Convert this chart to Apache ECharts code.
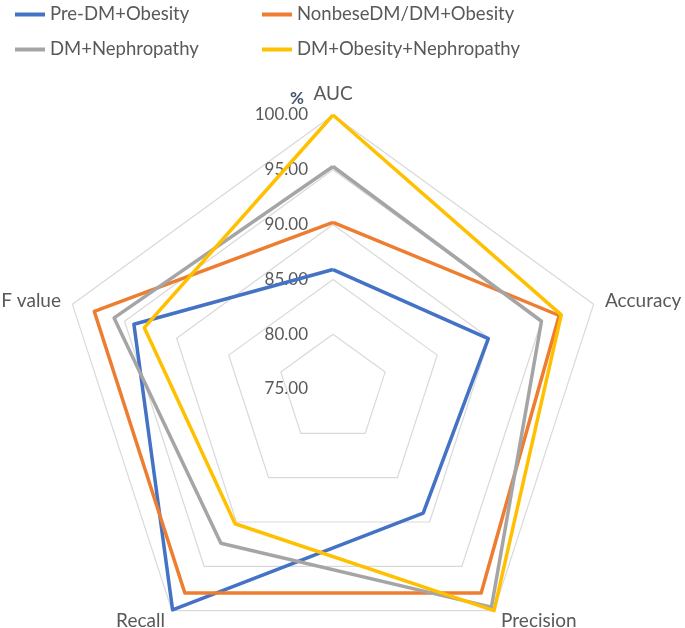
<!DOCTYPE html>
<html><head><meta charset="utf-8">
<script src="https://cdn.jsdelivr.net/npm/echarts@6/dist/echarts.min.js"></script>
<style>html,body{margin:0;padding:0;background:#fff}#c{width:685px;height:628px}</style>
</head><body><div id="c"></div>
<script>
const categories = ['AUC', 'Accuracy', 'Precision', 'Recall', 'F value'];
const seriesNames = ['Pre-DM+Obesity', 'NonbeseDM/DM+Obesity', 'DM+Nephropathy', 'DM+Obesity+Nephropathy'];
const preDM = [85.9, 89.9, 89.0, 99.9, 94.1];
const nonbese = [90.2, 96.7, 98.0, 98.0, 97.9];
const nephro = [95.3, 95.0, 99.6, 92.4, 96.0];
const obeseNephro = [100.0, 96.9, 100.0, 90.2, 93.1];
const axisMin = 75, axisMax = 100, axisStep = 5;
const colors = ['#4472C4', '#ED7D31', '#A5A5A5', '#FFC000'];

// ECharts places indicators counter-clockwise; reorder so they run clockwise
const order = [0, 4, 3, 2, 1];
const values = [preDM, nonbese, nephro, obeseNephro];
const font = 'Lato';
const indicator = order.map((k, i) => {
  const o = { name: categories[k], min: axisMin, max: axisMax };
  if (i === 0) o.axisLabel = { show: true };
  return o;
});

const legendPos = [[10, 0], [257, 0], [10, 35], [257, 35]];
const legends = seriesNames.map((n, i) => ({
  data: [n], left: legendPos[i][0], top: legendPos[i][1],
  icon: 'rect', itemWidth: 30, itemHeight: 4, itemGap: 0,
  selectedMode: false,
  textStyle: { color: '#595959', fontSize: 18.5, fontFamily: font }
}));

const chart = echarts.init(document.getElementById('c'));
chart.setOption({
  animation: false,
  backgroundColor: '#fff',
  color: colors,
  title: { text: '%', left: 285, top: 85, textStyle: { color: '#44546A', fontSize: 17, fontWeight: 'bold', fontFamily: font } },
  legend: legends,
  radar: {
    center: [333, 389], radius: 274, startAngle: 90, splitNumber: (axisMax - axisMin) / axisStep,
    shape: 'polygon', indicator: indicator,
    axisName: { color: '#595959', fontSize: 19, fontFamily: font },
    nameGap: 12,
    splitLine: { lineStyle: { color: '#D9D9D9', width: 1.2 } },
    splitArea: { show: false },
    axisLine: { show: false },
    axisTick: { show: false },
    axisLabel: { show: false, color: '#595959', fontSize: 17, fontFamily: font, margin: 25,
      formatter: v => Number(v).toFixed(2) }
  },
  series: [{
    type: 'radar', symbol: 'none', z: 3,
    data: values.map((arr, i) => ({
      name: seriesNames[i], value: order.map(k => arr[k]),
      lineStyle: { color: colors[i], width: 3.5 }, itemStyle: { color: colors[i] }
    }))
  }]
});
</script></body></html>
